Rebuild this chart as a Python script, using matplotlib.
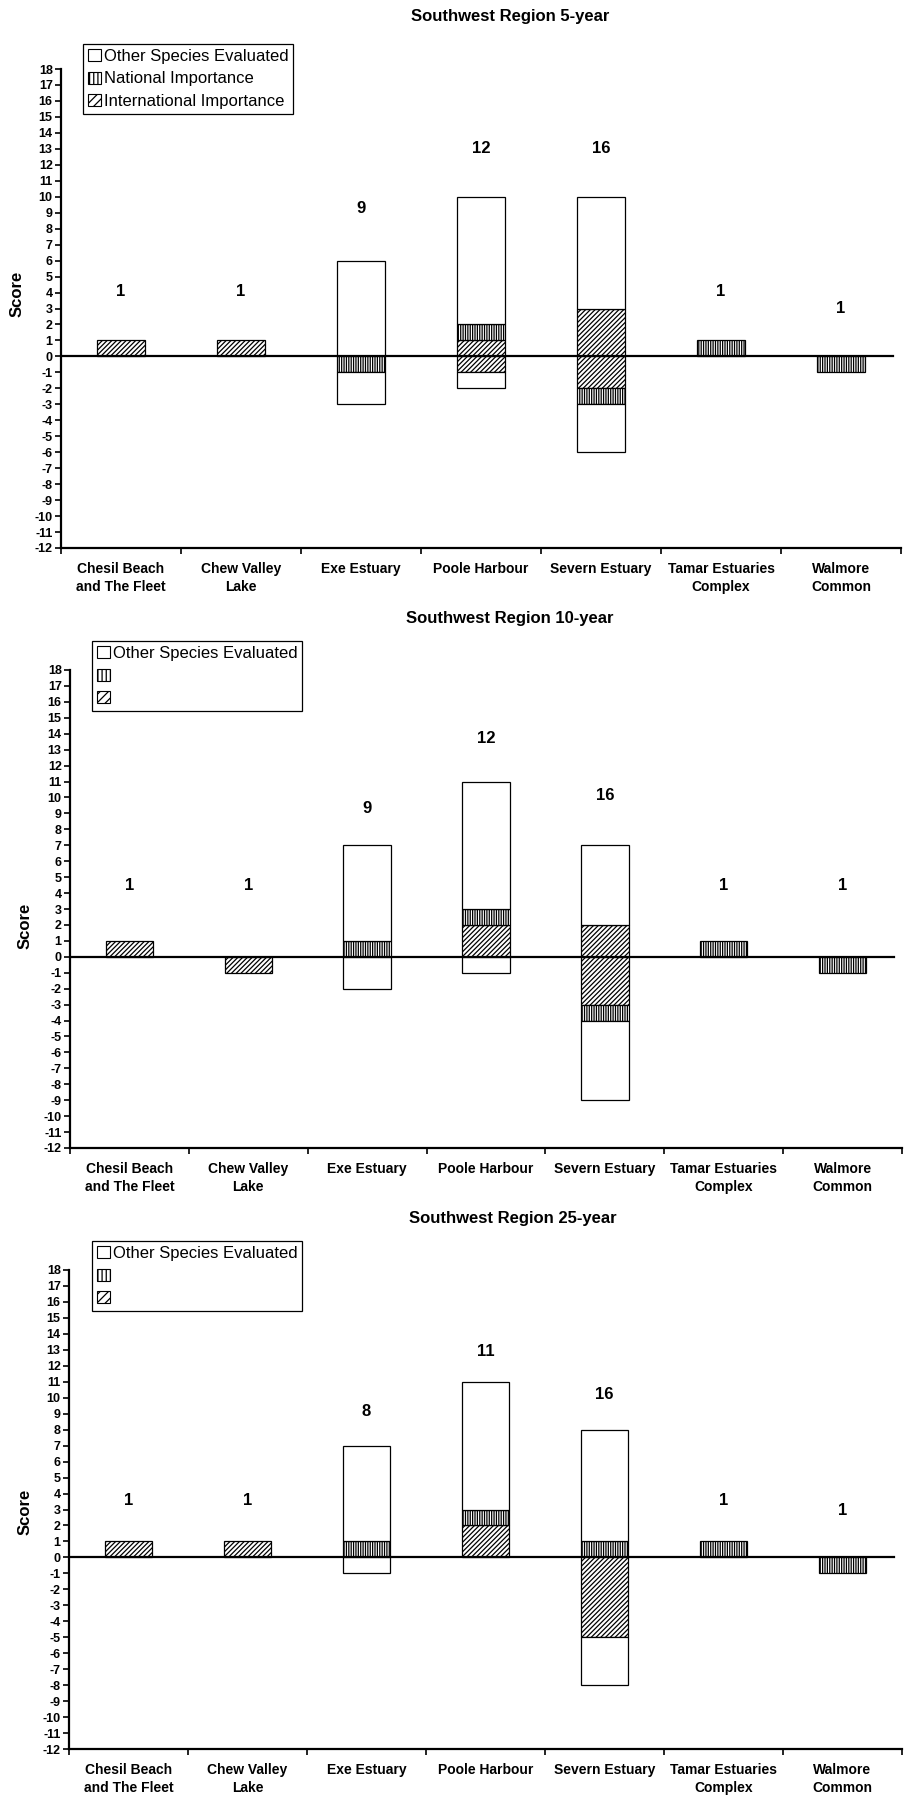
import numpy as np
import matplotlib.pyplot as plt
from matplotlib.patches import Patch

plt.rcParams['font.family'] = ['Liberation Sans', 'DejaVu Sans']
plt.rcParams['hatch.linewidth'] = 0.9
plt.rcParams['axes.unicode_minus'] = False

sites = ['Chesil Beach\nand The Fleet', 'Chew Valley\nLake', 'Exe Estuary',
         'Poole Harbour', 'Severn Estuary', 'Tamar Estuaries\nComplex',
         'Walmore\nCommon']

# 5-year scores (positive and negative parts of each stack)
intl_pos_5 = [1, 1, 0, 1, 3, 0, 0]
nat_pos_5 = [0, 0, 0, 1, 0, 1, 0]
oth_pos_5 = [0, 0, 6, 8, 7, 0, 0]
intl_neg_5 = [0, 0, 0, -1, -2, 0, 0]
nat_neg_5 = [0, 0, -1, 0, -1, 0, -1]
oth_neg_5 = [0, 0, -2, -1, -3, 0, 0]

# 10-year scores
intl_pos_10 = [1, 0, 0, 2, 2, 0, 0]
nat_pos_10 = [0, 0, 1, 1, 0, 1, 0]
oth_pos_10 = [0, 0, 6, 8, 5, 0, 0]
intl_neg_10 = [0, -1, 0, 0, -3, 0, 0]
nat_neg_10 = [0, 0, 0, 0, -1, 0, -1]
oth_neg_10 = [0, 0, -2, -1, -5, 0, 0]

# 25-year scores
intl_pos_25 = [1, 1, 0, 2, 0, 0, 0]
nat_pos_25 = [0, 0, 1, 1, 1, 1, 0]
oth_pos_25 = [0, 0, 6, 8, 7, 0, 0]
intl_neg_25 = [0, 0, 0, 0, -5, 0, 0]
nat_neg_25 = [0, 0, 0, 0, 0, 0, -1]
oth_neg_25 = [0, 0, -1, 0, -3, 0, 0]

HATCH_NAT = '|||||||'
HATCH_INTL = '///////'

W, H = 906, 1796
fig = plt.figure(figsize=(W / 100, H / 100), dpi=100)


def px_rect(l, t, r, b):
    return [l / W, 1 - b / H, (r - l) / W, (b - t) / H]


def stack(ax, x, vals, base, hatch):
    vals = np.array(vals, float)
    m = vals != 0
    ax.bar(x[m], vals[m], 0.4, bottom=base[m], color='white', edgecolor='black',
           linewidth=0.9, hatch=hatch, zorder=2)
    return base + vals


def panel(rect, title, title_xy, leg_xy, show_names, parts, lab_y, ylab_pos):
    ax = fig.add_axes(px_rect(*rect))
    x = np.arange(len(sites))
    ip, npos, op, ineg, nneg, oneg = parts
    b = np.zeros(len(sites))
    b = stack(ax, x, ip, b, HATCH_INTL)
    b = stack(ax, x, npos, b, HATCH_NAT)
    stack(ax, x, op, b, None)
    b = np.zeros(len(sites))
    b = stack(ax, x, ineg, b, HATCH_INTL)
    b = stack(ax, x, nneg, b, HATCH_NAT)
    stack(ax, x, oneg, b, None)
    ax.axhline(0, xmax=0.99, color='black', linewidth=1.6, zorder=3)

    # site totals printed above each stack
    totals = np.sum(np.abs(np.array(parts)), axis=0)
    for i, t in enumerate(totals):
        ax.text(x[i], lab_y[i], '%d' % t, ha='center', va='center',
                fontsize=12, fontweight='bold')

    ax.set_xlim(-0.5, len(sites) - 0.5)
    ax.set_ylim(-12, 18)
    ax.set_yticks(range(-12, 19))
    ax.set_xticks(x)
    ax.set_xticklabels(sites, fontsize=10, fontweight='bold', linespacing=1.35)
    ax.set_xticks(np.arange(-0.5, len(sites)), minor=True)
    ax.tick_params(axis='x', which='major', length=0, pad=10)
    ax.tick_params(axis='x', which='minor', length=4, width=1.2, direction='out')
    ax.tick_params(axis='y', length=4, width=1.2, pad=2, labelsize=9)
    for lab in ax.get_yticklabels():
        lab.set_fontweight('bold')
    for s in ['top', 'right']:
        ax.spines[s].set_visible(False)
    ax.spines['left'].set_linewidth(1.6)
    ax.spines['bottom'].set_linewidth(1.6)
    ax.set_ylabel('Score', fontsize=12, fontweight='bold')
    ax.yaxis.set_label_coords((ylab_pos[0] - rect[0]) / (rect[2] - rect[0]),
                              ylab_pos[1])

    fig.text(title_xy[0] / W, 1 - title_xy[1] / H, title, ha='center', va='center',
             fontsize=12, fontweight='bold')

    handles = [Patch(facecolor='white', edgecolor='black', linewidth=0.8),
               Patch(facecolor='white', edgecolor='black', linewidth=0.8, hatch='||||'),
               Patch(facecolor='white', edgecolor='black', linewidth=0.8, hatch='////')]
    if show_names:
        names = ['Other Species Evaluated', 'National Importance',
                 'International Importance']
    else:
        names = ['Other Species Evaluated', '', '']
    leg = ax.legend(handles, names, loc='upper left',
                    bbox_to_anchor=(leg_xy[0] / W, 1 - leg_xy[1] / H),
                    bbox_transform=fig.transFigure, fontsize=12, frameon=True,
                    fancybox=False, edgecolor='black', framealpha=1,
                    handlelength=0.75, handleheight=0.75, handletextpad=0.2,
                    borderpad=0.3, labelspacing=0.45, borderaxespad=0)
    leg.get_frame().set_linewidth(0.9)
    return ax


panel((61, 69, 901, 548), 'Southwest Region 5-year', (510, 17), (83, 44), True,
      [intl_pos_5, nat_pos_5, oth_pos_5, intl_neg_5, nat_neg_5, oth_neg_5],
      [4.05, 4.05, 9.25, 13.0, 13.0, 4.05, 3.0], (25, 0.53))
panel((70, 670, 902, 1148), 'Southwest Region 10-year', (510, 618), (92, 641), False,
      [intl_pos_10, nat_pos_10, oth_pos_10, intl_neg_10, nat_neg_10, oth_neg_10],
      [4.5, 4.5, 9.3, 13.7, 10.1, 4.5, 4.5], (33, 0.465))
panel((69, 1270, 902, 1749), 'Southwest Region 25-year', (513, 1219), (92, 1241), False,
      [intl_pos_25, nat_pos_25, oth_pos_25, intl_neg_25, nat_neg_25, oth_neg_25],
      [3.55, 3.55, 9.15, 12.9, 10.2, 3.55, 2.95], (33, 0.495))

fig.savefig('out.png', dpi=100)
